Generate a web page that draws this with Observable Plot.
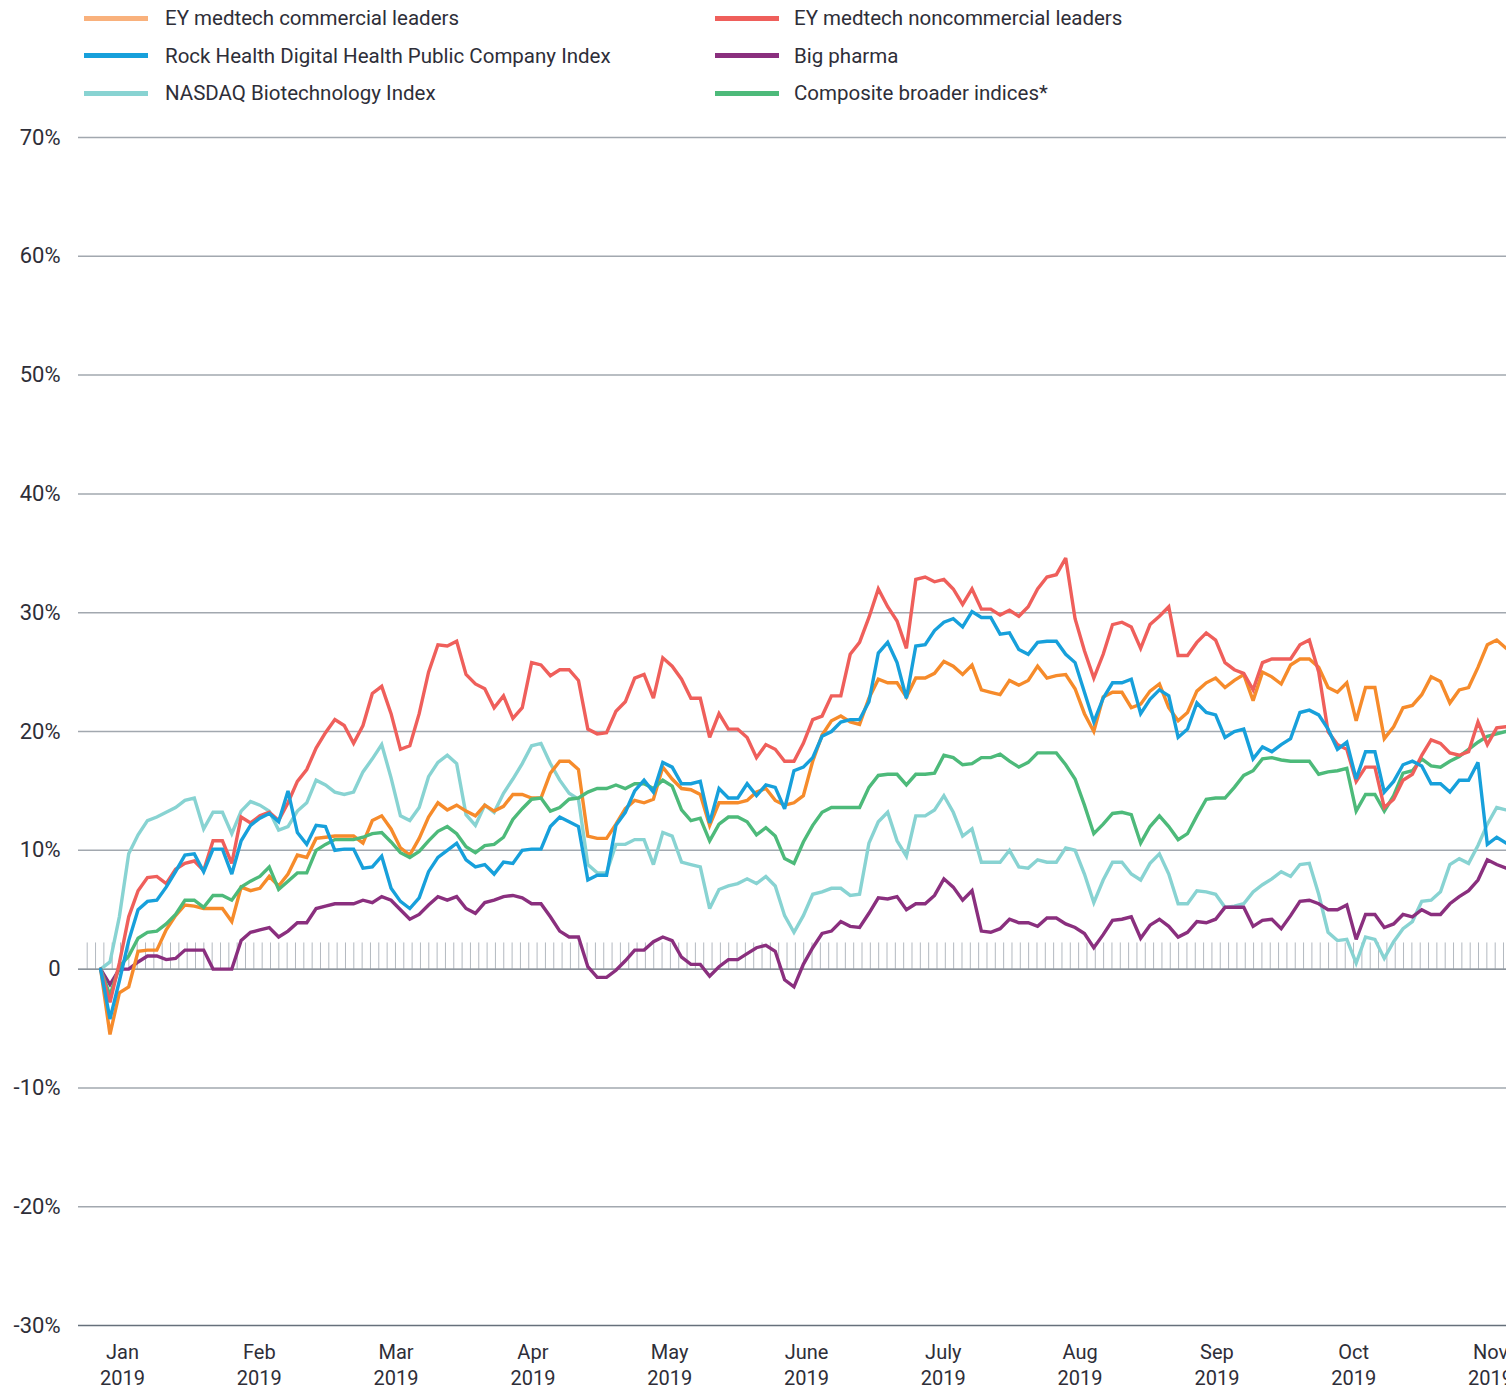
<!DOCTYPE html>
<html><head><meta charset="utf-8">
<script src="https://cdn.jsdelivr.net/npm/d3@7"></script>
<script src="https://cdn.jsdelivr.net/npm/@observablehq/plot@0.6"></script>
<style>
html,body{margin:0;padding:0;background:#fff;overflow:hidden;}
body{width:1506px;height:1391px;font-family:Roboto,"Noto Sans",sans-serif;color:#2e2e38;}
#legend{position:relative;height:112px;}
.item{position:absolute;display:flex;align-items:center;height:24px;font-size:20.5px;white-space:nowrap;color:#2e2e38;}
.sw{width:64px;height:5px;margin-right:16px;flex:none;}
#chart svg{display:block;}
</style></head><body>
<div id="legend"></div><div id="chart"></div>
<script>
// ---- data ----
const monthLabels = ["Jan","Feb","Mar","Apr","May","June","July","Aug","Sep","Oct","Nov"];
const yearLabel = "2019";
const yTicks = [-30,-20,-10,0,10,20,30,40,50,60,70];
const pointsPerMonth = 14.6;      // observations per month on the axis
const firstPointMonth = -0.16;    // first observation, in months relative to Jan

const seriesNames = [
  "EY medtech commercial leaders",
  "Rock Health Digital Health Public Company Index",
  "NASDAQ Biotechnology Index",
  "EY medtech noncommercial leaders",
  "Big pharma",
  "Composite broader indices*"
];

const commercial = [0,-5.5,-2.0,-1.5,1.5,1.6,1.6,3.3,4.5,5.4,
5.3,5.1,5.1,5.1,4.0,6.9,6.6,6.8,7.8,7.0,
8.0,9.6,9.4,11.0,11.1,11.2,11.2,11.2,10.6,12.5,
12.9,11.8,10.2,9.6,11.0,12.8,14.0,13.4,13.8,13.3,
12.9,13.8,13.3,13.7,14.7,14.7,14.4,14.4,16.5,17.5,
17.5,16.8,11.2,11.0,11.0,12.2,13.5,14.2,14.0,14.3,
17.0,16.0,15.2,15.1,14.7,12.1,14.0,14.0,14.0,14.2,
14.9,15.2,14.2,13.8,14.0,14.6,17.5,19.7,20.9,21.3,
20.8,20.6,22.8,24.4,24.1,24.1,22.9,24.5,24.5,24.9,
25.9,25.5,24.8,25.6,23.5,23.3,23.1,24.3,23.9,24.3,
25.5,24.5,24.7,24.8,23.6,21.5,20.0,22.9,23.3,23.3,
22.0,22.3,23.4,24.0,22.0,20.9,21.6,23.4,24.1,24.5,
23.7,24.3,24.8,22.6,25.0,24.6,24.0,25.6,26.1,26.1,
25.4,23.7,23.3,24.1,20.9,23.7,23.7,19.4,20.4,22.0,
22.2,23.1,24.6,24.2,22.4,23.5,23.7,25.4,27.3,27.7,
27.0];

const noncommercial = [0,-2.8,0.5,4.4,6.6,7.7,7.8,7.2,8.4,8.9,
9.1,8.3,10.8,10.8,8.9,12.8,12.3,12.9,13.2,12.5,
14.0,15.8,16.8,18.6,19.9,21.0,20.5,19.0,20.5,23.2,
23.8,21.5,18.5,18.8,21.5,25.0,27.3,27.2,27.6,24.8,
24.0,23.6,22.0,23.0,21.1,22.0,25.8,25.6,24.7,25.2,
25.2,24.3,20.2,19.8,19.9,21.7,22.5,24.5,24.8,22.8,
26.2,25.5,24.4,22.8,22.8,19.5,21.5,20.2,20.2,19.5,
17.8,18.9,18.5,17.5,17.5,19.0,21.0,21.3,23.0,23.0,
26.5,27.5,29.6,32.0,30.5,29.3,27.0,32.8,33.0,32.6,
32.8,32.0,30.7,32.0,30.3,30.3,29.8,30.2,29.7,30.5,
32.0,33.0,33.2,34.6,29.5,26.8,24.5,26.5,29.0,29.2,
28.8,27.0,29.0,29.7,30.5,26.4,26.4,27.5,28.3,27.7,
25.8,25.2,24.9,23.5,25.8,26.1,26.1,26.1,27.3,27.7,
25.0,20.0,18.9,18.5,15.8,17.0,17.0,13.6,14.3,15.9,
16.4,18.0,19.3,19.0,18.2,18.0,18.3,20.8,18.9,20.3,
20.4];

const rockHealth = [0,-4.2,-1.0,2.4,5.0,5.7,5.8,6.9,8.2,9.6,
9.7,8.2,10.1,10.1,8.0,10.8,12.1,12.7,13.1,12.4,
15.0,11.5,10.5,12.1,12.0,10.0,10.1,10.1,8.5,8.6,
9.5,6.8,5.7,5.1,6.0,8.2,9.4,10.0,10.6,9.2,
8.6,8.8,8.0,9.0,8.9,10.0,10.1,10.1,12.0,12.8,
12.4,12.0,7.5,7.9,7.9,12.1,13.2,15.0,15.9,14.9,
17.4,17.0,15.6,15.6,15.8,12.3,15.2,14.4,14.4,15.6,
14.6,15.5,15.3,13.5,16.7,17.0,17.8,19.6,20.0,20.8,
21.0,21.0,22.5,26.6,27.5,25.8,22.8,27.2,27.3,28.5,
29.2,29.5,28.8,30.1,29.6,29.6,28.2,28.3,26.9,26.5,
27.5,27.6,27.6,26.5,25.8,23.3,20.8,22.8,24.1,24.1,
24.4,21.5,22.7,23.5,23.0,19.5,20.2,22.4,21.6,21.4,
19.5,20.0,20.2,17.7,18.7,18.3,18.9,19.4,21.6,21.8,
21.4,20.2,18.5,19.1,16.0,18.3,18.3,14.9,15.8,17.2,
17.5,17.1,15.6,15.6,14.9,15.9,15.9,17.4,10.5,11.1,
10.6];

const nasdaqBiotech = [0,0.6,4.4,9.7,11.3,12.5,12.8,13.2,13.6,14.2,
14.4,11.8,13.2,13.2,11.4,13.3,14.1,13.8,13.3,11.7,
12.0,13.3,14.0,15.9,15.5,14.9,14.7,14.9,16.6,17.7,
18.9,16.1,12.9,12.5,13.6,16.2,17.4,18.0,17.3,13.0,
12.1,13.8,13.2,14.8,16.0,17.3,18.8,19.0,17.3,15.9,
14.8,14.3,8.8,8.1,8.1,10.5,10.5,10.9,10.9,8.8,
11.5,11.2,9.0,8.8,8.6,5.1,6.7,7.0,7.2,7.6,
7.2,7.8,7.0,4.5,3.1,4.5,6.3,6.5,6.8,6.8,
6.2,6.3,10.6,12.4,13.2,10.8,9.5,12.9,12.9,13.4,
14.6,13.2,11.2,11.8,9.0,9.0,9.0,10.0,8.6,8.5,
9.2,9.0,9.0,10.2,10.0,8.0,5.6,7.5,9.0,9.0,
8.0,7.5,8.9,9.7,8.0,5.5,5.5,6.6,6.5,6.3,
5.2,5.3,5.5,6.5,7.1,7.6,8.2,7.8,8.8,8.9,
6.3,3.1,2.4,2.5,0.5,2.7,2.5,0.9,2.3,3.4,
4.0,5.7,5.8,6.5,8.8,9.3,8.9,10.4,12.2,13.6,
13.4];

const bigPharma = [0,-1.3,0,0,0.6,1.1,1.1,0.8,0.9,1.6,
1.6,1.6,0,0,0,2.4,3.1,3.3,3.5,2.7,
3.2,3.9,3.9,5.1,5.3,5.5,5.5,5.5,5.8,5.6,
6.1,5.8,5.0,4.2,4.6,5.4,6.1,5.8,6.1,5.1,
4.7,5.6,5.8,6.1,6.2,6.0,5.5,5.5,4.4,3.2,
2.7,2.7,0.2,-0.7,-0.7,-0.1,0.7,1.6,1.6,2.3,
2.7,2.4,1.0,0.4,0.4,-0.6,0.2,0.8,0.8,1.3,
1.8,2.0,1.5,-0.9,-1.5,0.4,1.8,3.0,3.2,4.0,
3.6,3.5,4.7,6.0,5.9,6.1,5.0,5.5,5.5,6.2,
7.6,6.9,5.8,6.6,3.2,3.1,3.4,4.2,3.9,3.9,
3.6,4.3,4.3,3.8,3.5,3.0,1.8,2.9,4.1,4.2,
4.4,2.6,3.7,4.2,3.6,2.7,3.1,4.0,3.9,4.2,
5.2,5.2,5.2,3.6,4.1,4.2,3.4,4.5,5.7,5.8,
5.5,5.0,5.0,5.4,2.5,4.6,4.6,3.5,3.8,4.6,
4.4,5.0,4.6,4.6,5.5,6.1,6.6,7.5,9.2,8.8,
8.5];

const composite = [0,-2.2,0.2,1.1,2.6,3.1,3.2,3.8,4.6,5.8,
5.8,5.2,6.2,6.2,5.8,6.9,7.4,7.8,8.6,6.7,
7.4,8.1,8.1,10.0,10.5,10.9,10.9,10.9,11.1,11.4,
11.5,10.7,9.8,9.4,9.9,10.8,11.6,12.0,11.4,10.3,
9.8,10.4,10.5,11.1,12.6,13.5,14.3,14.4,13.3,13.6,
14.3,14.4,14.9,15.2,15.2,15.5,15.2,15.6,15.6,15.2,
15.9,15.4,13.4,12.5,12.7,10.8,12.2,12.8,12.8,12.4,
11.3,11.9,11.2,9.3,8.9,10.7,12.1,13.2,13.6,13.6,
13.6,13.6,15.3,16.3,16.4,16.4,15.5,16.4,16.4,16.5,
18.0,17.8,17.2,17.3,17.8,17.8,18.1,17.5,17.0,17.4,
18.2,18.2,18.2,17.2,16.0,13.8,11.4,12.2,13.1,13.2,
13.0,10.6,12.0,12.9,12.0,10.9,11.4,12.9,14.3,14.4,
14.4,15.3,16.3,16.7,17.7,17.8,17.6,17.5,17.5,17.5,
16.4,16.6,16.7,16.9,13.3,14.7,14.7,13.3,14.6,16.5,
16.7,17.7,17.1,17.0,17.5,17.9,18.5,19.1,19.6,19.8,
20.0];

// ---- styling ----
const lineColors = {
  "EY medtech commercial leaders": "#f68b2b",
  "Rock Health Digital Health Public Company Index": "#17a0db",
  "NASDAQ Biotechnology Index": "#88d3d2",
  "EY medtech noncommercial leaders": "#ef5f5b",
  "Big pharma": "#8a2f7e",
  "Composite broader indices*": "#4dba7a"
};
const swatchColors = Object.assign({}, lineColors, {"EY medtech commercial leaders": "#f9b17c"});
const valuesByName = {
  "EY medtech commercial leaders": commercial,
  "Rock Health Digital Health Public Company Index": rockHealth,
  "NASDAQ Biotechnology Index": nasdaqBiotech,
  "EY medtech noncommercial leaders": noncommercial,
  "Big pharma": bigPharma,
  "Composite broader indices*": composite
};

// legend
const legend = document.getElementById("legend");
seriesNames.forEach((name, k) => {
  const col = Math.floor(k / 3), row = k % 3;
  const el = document.createElement("div");
  el.className = "item";
  el.style.left = (col === 0 ? 84 : 715) + "px";
  el.style.top = (6 + row * 37.5) + "px";
  el.innerHTML = `<span class="sw" style="background:${swatchColors[name]};margin-right:${col === 0 ? 17 : 15}px"></span><span>${name}</span>`;
  legend.appendChild(el);
});

const toRows = name => valuesByName[name].map((v, i) => ({x: firstPointMonth + i / pointsPerMonth, y: v}));
const drawOrder = [
  "NASDAQ Biotechnology Index",
  "Big pharma",
  "EY medtech commercial leaders",
  "Composite broader indices*",
  "EY medtech noncommercial leaders",
  "Rock Health Digital Health Public Company Index"
];
const rugTicks = d3.range(-0.258, 10.2, 1 / 16.42);

const chart = Plot.plot({
  width: 1506,
  height: 1279,
  marginLeft: 78,
  marginRight: 0,
  marginTop: 25,
  marginBottom: 66,
  style: {fontFamily: "Roboto, 'Noto Sans', sans-serif", color: "#2e2e38", background: "white"},
  x: {domain: [-0.3216, 10.117], axis: null},
  y: {domain: [-30, 70], axis: null},
  marks: [
    Plot.ruleY(yTicks.filter(d => d !== 0 && d !== -30), {stroke: "#a2a8af", strokeWidth: 1.5}),
    Plot.ruleX(rugTicks, {y1: 0, y2: 2.2, stroke: "#b3b9c0", strokeWidth: 1}),
    Plot.ruleY([0, -30], {stroke: "#66707b", strokeWidth: 1.3}),
    Plot.axisY(yTicks, {anchor: "left", label: null, tickSize: 0, tickPadding: 18, fontSize: 22,
      tickFormat: d => d === 0 ? "0" : `${d}%`}),
    Plot.axisX(d3.range(monthLabels.length), {anchor: "bottom", label: null, tickSize: 0, tickPadding: 15, fontSize: 20,
      lineHeight: 1.3, tickFormat: i => `${monthLabels[i]}\n${yearLabel}`}),
    ...drawOrder.map(name => Plot.line(toRows(name), {x: "x", y: "y", stroke: lineColors[name], strokeWidth: 3.4, strokeLinejoin: "miter", strokeMiterlimit: 3}))
  ]
});
document.getElementById("chart").appendChild(chart);
</script></body></html>
